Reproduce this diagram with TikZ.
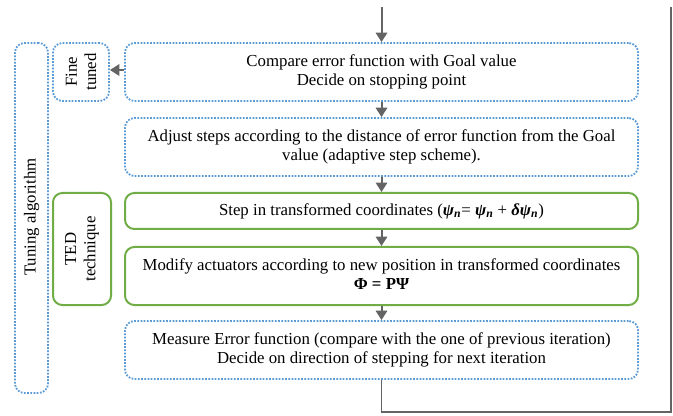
\documentclass[tikz,border=0pt]{standalone}
\usepackage{fontspec}
\setmainfont{Liberation Serif}
\usetikzlibrary{arrows.meta}
\definecolor{dotblue}{RGB}{91,155,213}
\definecolor{boxgreen}{RGB}{112,173,71}
\definecolor{arrgray}{RGB}{100,100,100}
\tikzset{
  dotbox/.style={draw=dotblue, line width=1.4pt, dash pattern=on 1.3pt off 1.1pt, rounded corners=7pt, inner sep=0pt},
  greenbox/.style={draw=boxgreen, line width=1.5pt, rounded corners=7pt, inner sep=0pt},
  txt/.style={align=center, inner sep=0pt, font=\fontsize{12.6}{14.5}\selectfont},
  flowarrow/.style={draw=arrgray, line width=1.5pt, -{Triangle[width=8.5pt,length=7pt]}},
  loopline/.style={draw=arrgray, line width=1.1pt}
}
\begin{document}
\begin{tikzpicture}[x=0.75pt,y=-0.75pt]
\useasboundingbox (0,0) rectangle (673,416);
% main column
\node[dotbox, minimum width=384.75pt, minimum height=43.5pt] (compare) at (381.5,72) {};
\node[txt] (comparetxt) at (381.5,72) {Compare error function with Goal value\\Decide on stopping point};
\node[dotbox, minimum width=384.75pt, minimum height=43.5pt] (adjust) at (381.5,147) {};
\node[txt] (adjusttxt) at (381.5,147) {Adjust steps according to the distance of error function from the Goal\\value (adaptive step scheme).};
\node[greenbox, minimum width=384.75pt, minimum height=27pt] (step) at (381.5,211) {};
\node[txt] (steptxt) at (381.5,211) {Step in transformed coordinates (\textbf{\textit{ψ\textsubscript{n}}}= \textbf{\textit{ψ\textsubscript{n}}} + \textbf{\textit{δψ\textsubscript{n}}})};
\node[greenbox, minimum width=384.75pt, minimum height=43.5pt] (modify) at (381.5,276) {};
\node[txt] (modifytxt) at (381.5,274) {Modify actuators according to new position in transformed coordinates\\\textbf{Φ = PΨ}};
\node[dotbox, minimum width=384.75pt, minimum height=43.5pt] (measure) at (381.5,350) {};
\node[txt] (measuretxt) at (381.5,350) {Measure Error function (compare with the one of previous iteration)\\Decide on direction of stepping for next iteration};
% left column
\node[dotbox, minimum width=42pt, minimum height=43.5pt] (fine) at (81,72) {};
\node[txt, rotate=90] (finetxt) at (81,72) {Fine\\tuned};
\node[greenbox, minimum width=43.5pt, minimum height=84pt] (ted) at (82,249) {};
\node[txt, rotate=90] (tedtxt) at (82,249) {TED\\technique};
\node[dotbox, minimum width=24.75pt, minimum height=262.5pt] (tuning) at (31.5,218) {};
\node[txt, rotate=90] (tuningtxt) at (31.5,217) {Tuning algorithm};
% connectors
\coordinate (topin) at (381.5,7);
\coordinate (loopa) at (381.5,412);
\coordinate (loopb) at (671,412);
\coordinate (loopc) at (671,7);
\draw[flowarrow] (topin) -- (compare.north);
\draw[flowarrow] (compare.south) -- (adjust.north);
\draw[flowarrow] (adjust.south) -- (step.north);
\draw[flowarrow] (step.south) -- (modify.north);
\draw[flowarrow] (modify.south) -- (measure.north);
\draw[flowarrow] (compare.west |- 0,70) -- (fine.east |- 0,70);
\draw[loopline] (measure.south) -- (loopa) -- (loopb) -- (loopc);
\end{tikzpicture}
\end{document}
